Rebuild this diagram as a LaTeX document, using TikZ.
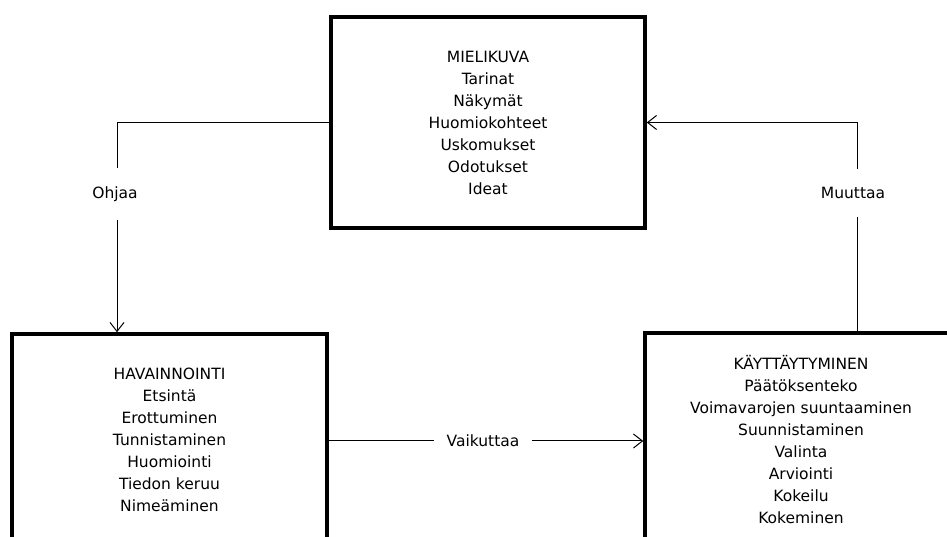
\documentclass[tikz,border=0pt]{standalone}
\usepackage{fontspec}
\setmainfont{DejaVu Sans}
\usetikzlibrary{arrows.meta}
\begin{document}
\begin{tikzpicture}[x=1pt,y=1pt,
  box/.style={draw=black, line width=3.5pt, fill=white, inner sep=0pt,
    align=center, font=\fontsize{15.5}{22}\selectfont},
  conn/.style={draw=black, line width=1pt},
  tip/.style={-{Straight Barb[length=9pt,width=14pt,line width=1pt]}},
  lbl/.style={fill=white, inner xsep=8pt, inner ysep=18pt,
    font=\fontsize{15.5}{17}\selectfont},
  hlbl/.style={fill=white, inner xsep=12pt, inner ysep=4pt,
    font=\fontsize{15.5}{17}\selectfont}]
\useasboundingbox (0,0) rectangle (947,537);
\clip (0,0) rectangle (947,537);
\fill[white] (0,0) rectangle (947,537);

% the three boxes
\node[box, minimum width=314pt, minimum height=211pt] (mieli) at (488,414.5)
  {MIELIKUVA\\Tarinat\\Näkymät\\Huomiokohteet\\Uskomukset\\Odotukset\\Ideat};
\node[box, minimum width=315pt, minimum height=212pt] (havainto) at (169.5,97)
  {HAVAINNOINTI\\Etsintä\\Erottuminen\\Tunnistaminen\\Huomiointi\\Tiedon keruu\\Nimeäminen};
\node[box, minimum width=312pt, minimum height=214pt] (kaytos) at (801,97)
  {KÄYTTÄYTYMINEN\\Päätöksenteko\\Voimavarojen suuntaaminen\\Suunnistaminen\\Valinta\\Arviointi\\Kokeilu\\Kokeminen};

% bend points of the side connectors
\coordinate (ohjaaturn) at (117,414.5);
\coordinate (muuttaaturn) at (857,414.5);

% connector labels
\node[lbl] (ohjaa) at (115,343) {Ohjaa};
\node[lbl] (muuttaa) at (853,344) {Muuttaa};
\node[hlbl] (vaikuttaa) at (483,96) {Vaikuttaa};

% MIELIKUVA -> HAVAINNOINTI
\draw[conn] (mieli.west) -- (ohjaaturn) -- (ohjaaturn |- ohjaa.north);
\draw[conn, tip] (ohjaaturn |- ohjaa.south) -- (ohjaaturn |- havainto.north);

% HAVAINNOINTI -> KÄYTTÄYTYMINEN
\draw[conn] (havainto.east |- vaikuttaa.west) -- (vaikuttaa.west);
\draw[conn, tip] (vaikuttaa.east) -- (vaikuttaa.east -| kaytos.west);

% KÄYTTÄYTYMINEN -> MIELIKUVA
\draw[conn] (muuttaaturn |- kaytos.north) -- (muuttaaturn |- muuttaa.south);
\draw[conn, tip] (muuttaaturn |- muuttaa.north) -- (muuttaaturn) -- (mieli.east);
\end{tikzpicture}
\end{document}
